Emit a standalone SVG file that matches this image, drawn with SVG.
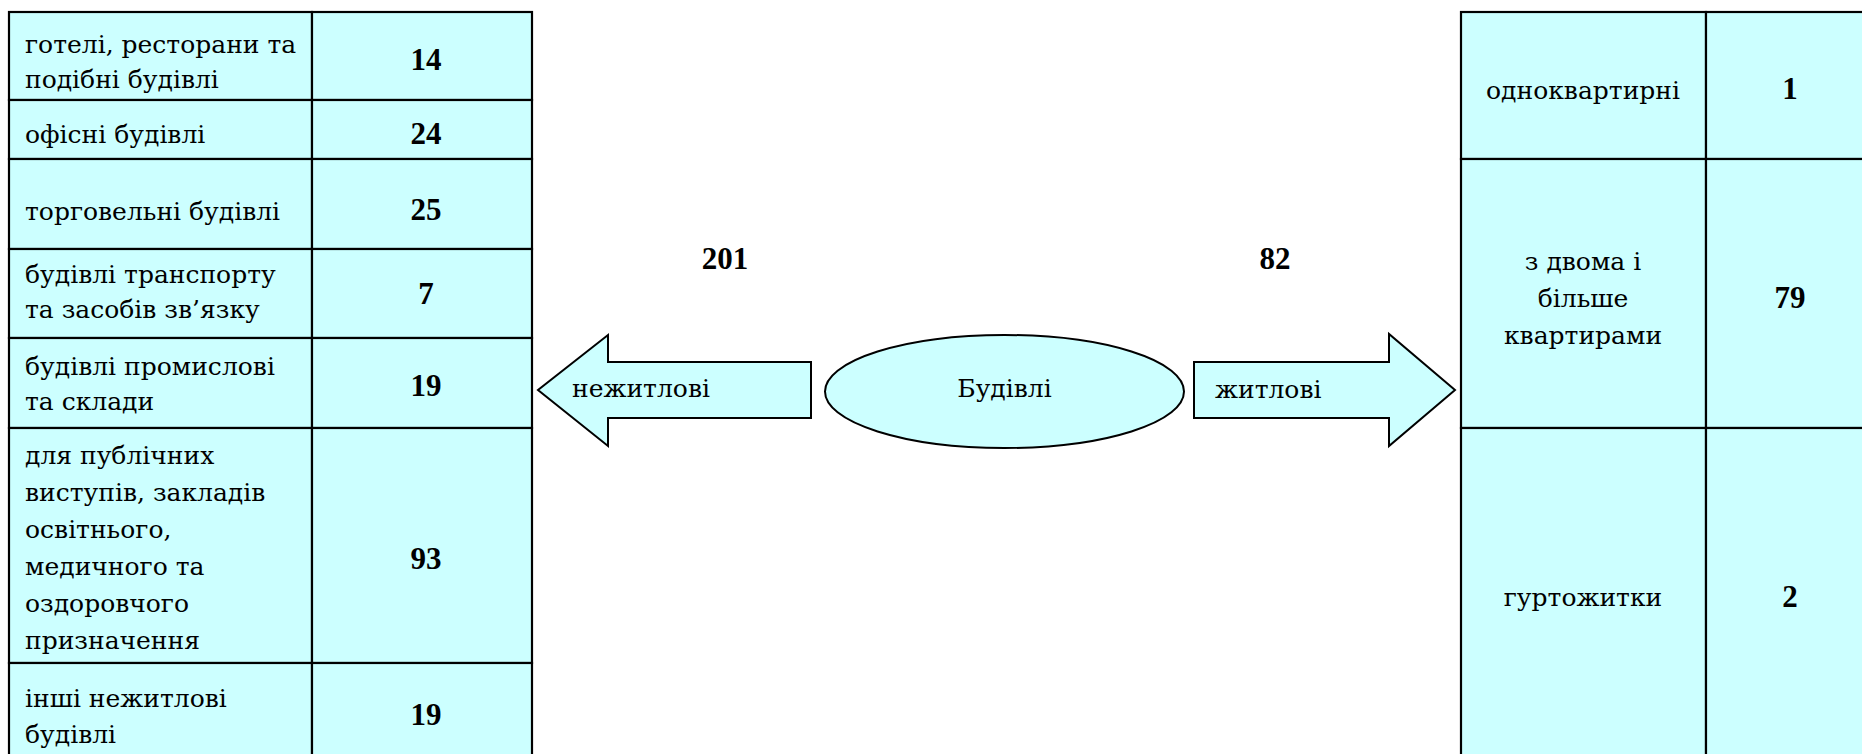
<svg xmlns="http://www.w3.org/2000/svg" width="1862" height="754" viewBox="0 0 1862 754">
<style>
.cell{fill:#CCFFFF;stroke:#000;stroke-width:2.2}
.t{font-family:"DejaVu Serif","Liberation Serif",serif;font-size:25px;fill:#000}
.n{font-family:"Liberation Serif","DejaVu Serif",serif;font-size:31px;font-weight:bold;fill:#000;text-anchor:middle}
.c{text-anchor:middle}
.shape{fill:#CCFFFF;stroke:#000;stroke-width:2}
</style>
<rect width="1862" height="754" fill="#fff"/>
<g id="left-row1"><rect class="cell" x="9" y="12" width="303" height="88"/><rect class="cell" x="312" y="12" width="220" height="88"/><text class="t" x="25" y="53">готелі, ресторани та</text><text class="t" x="25" y="88">подібні будівлі</text><text class="n" x="426" y="70">14</text></g>
<g id="left-row2"><rect class="cell" x="9" y="100" width="303" height="59"/><rect class="cell" x="312" y="100" width="220" height="59"/><text class="t" x="25" y="143">офісні будівлі</text><text class="n" x="426" y="144">24</text></g>
<g id="left-row3"><rect class="cell" x="9" y="159" width="303" height="90"/><rect class="cell" x="312" y="159" width="220" height="90"/><text class="t" x="25" y="220">торговельні будівлі</text><text class="n" x="426" y="220">25</text></g>
<g id="left-row4"><rect class="cell" x="9" y="249" width="303" height="89"/><rect class="cell" x="312" y="249" width="220" height="89"/><text class="t" x="25" y="283">будівлі транспорту</text><text class="t" x="25" y="318">та засобів зв’язку</text><text class="n" x="426" y="304">7</text></g>
<g id="left-row5"><rect class="cell" x="9" y="338" width="303" height="90"/><rect class="cell" x="312" y="338" width="220" height="90"/><text class="t" x="25" y="375">будівлі промислові</text><text class="t" x="25" y="410">та склади</text><text class="n" x="426" y="396">19</text></g>
<g id="left-row6"><rect class="cell" x="9" y="428" width="303" height="235"/><rect class="cell" x="312" y="428" width="220" height="235"/><text class="t" x="25" y="464">для публічних</text><text class="t" x="25" y="501">виступів, закладів</text><text class="t" x="25" y="538">освітнього,</text><text class="t" x="25" y="575">медичного та</text><text class="t" x="25" y="612">оздоровчого</text><text class="t" x="25" y="649">призначення</text><text class="n" x="426" y="569">93</text></g>
<g id="left-row7"><rect class="cell" x="9" y="663" width="303" height="95"/><rect class="cell" x="312" y="663" width="220" height="95"/><text class="t" x="25" y="707">інші нежитлові</text><text class="t" x="25" y="743">будівлі</text><text class="n" x="426" y="725">19</text></g>
<g id="right-row1"><rect class="cell" x="1461" y="12" width="245" height="147"/><rect class="cell" x="1706" y="12" width="170" height="147"/><text class="t c" x="1583" y="99">одноквартирні</text><text class="n" x="1790" y="99">1</text></g>
<g id="right-row2"><rect class="cell" x="1461" y="159" width="245" height="269"/><rect class="cell" x="1706" y="159" width="170" height="269"/><text class="t c" x="1583" y="270">з двома і</text><text class="t c" x="1583" y="307">більше</text><text class="t c" x="1583" y="344">квартирами</text><text class="n" x="1790" y="308">79</text></g>
<g id="right-row3"><rect class="cell" x="1461" y="428" width="245" height="330"/><rect class="cell" x="1706" y="428" width="170" height="330"/><text class="t c" x="1583" y="606">гуртожитки</text><text class="n" x="1790" y="607">2</text></g>
<g id="center-node"><ellipse class="shape" cx="1004.5" cy="391.5" rx="179.5" ry="56.5"/><text class="t c" x="1004.5" y="397">Будівлі</text></g>
<g id="connectors">
<g id="arrow-left"><polygon class="shape" points="811,362 608,362 608,335 538,390 608,446 608,418 811,418"/><text class="t" x="572" y="397">нежитлові</text></g>
<g id="arrow-right"><polygon class="shape" points="1194,362 1389,362 1389,334 1455,390 1389,446 1389,418 1194,418"/><text class="t" x="1215" y="398">житлові</text></g>
</g>
<g id="labels"><text class="n" x="725" y="269">201</text><text class="n" x="1275" y="269">82</text></g>
</svg>
